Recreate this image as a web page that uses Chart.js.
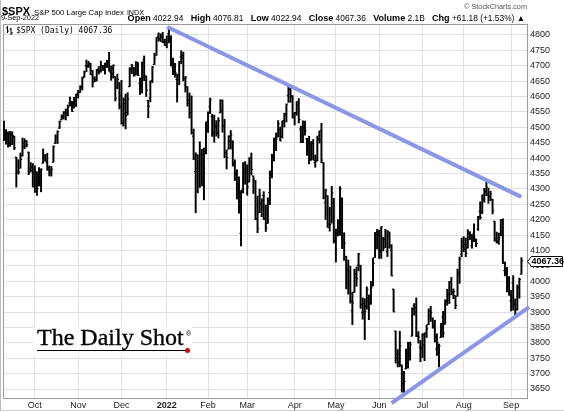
<!DOCTYPE html>
<html>
<head>
<meta charset="utf-8">
<script src="https://cdn.jsdelivr.net/npm/chart.js@4.4.1/dist/chart.umd.min.js"></script>
<style>
  body { margin: 0; background: #fff; }
  #wrap { position: relative; width: 564px; height: 412px; overflow: hidden; background: #fff; font-family: Arial, "Liberation Sans", sans-serif; color: #000; }
  #c { position: absolute; left: 0; top: 0; }
  .abs { position: absolute; white-space: nowrap; line-height: 1; }
  #sym { left: 2px; top: 1.5px; }
  #sym b { font-size: 11px; }
  #sym .nm { font-size: 8px; margin-left: 4px; }
  #sym .ex { font-size: 7.5px; margin-left: 3px; }
  #brand { right: 37px; top: 3px; font-size: 8px; color: #555; }
  #date { left: 1px; top: 14.2px; font-size: 8px; }
  #quote { right: 39px; top: 13.8px; font-size: 8.4px; }
  #quote b { font-size: 1.08em; margin-left: 0.55em; }
  #quote b:first-child { margin-left: 0; }
  #legend { left: 6px; top: 26px; font-family: "DejaVu Sans Mono", monospace; font-size: 8px; display: flex; align-items: center; }
  #legend svg { margin-right: 3px; }
  #logo { left: 34px; top: 327px; width: 158px; height: 28px; background: #fff; }
  #logo .t { position: absolute; left: 3px; top: -2px; font-family: "Liberation Serif", "Times New Roman", serif; font-size: 24px; letter-spacing: 0; -webkit-text-stroke: 0.35px #000; }
  #logo .ul { position: absolute; left: 3px; top: 22.5px; width: 150px; height: 1.5px; background: #000; }
  #logo .dot { position: absolute; left: 150.5px; top: 20.5px; width: 5px; height: 5px; border-radius: 50%; background: #d00; }
  #logo .r { position: absolute; left: 152px; top: 3px; font-size: 7px; font-family: Arial, sans-serif; }
  #edge { position: absolute; left: 0; top: 0; width: 563px; height: 410px; border-left: 1px solid #bbb; border-bottom: 1px solid #ccc; pointer-events: none; }
</style>
</head>
<body>
<div id="wrap">
  <canvas id="c" width="564" height="412"></canvas>
  <div id="sym" class="abs"><b data-w="28">$SPX</b><span class="nm" data-w="90">S&amp;P 500 Large Cap Index</span><span class="ex" data-w="17">INDX</span></div>
  <div id="brand" class="abs" data-w="63">© StockCharts.com</div>
  <div id="date" class="abs" data-w="38">9-Sep-2022</div>
  <div id="quote" class="abs" data-w="397"><b>Open</b> 4022.94 <b>High</b> 4076.81 <b>Low</b> 4022.94 <b>Close</b> 4067.36 <b>Volume</b> 2.1B <b>Chg</b> +61.18 (+1.53%) ▲</div>
  <div id="legend" class="abs">
    <svg width="7" height="9" viewBox="0 0 7 9"><path d="M1.5 0V7M0 2H1.5M1.5 5H3M5 2V9M3.5 3H5M5 7H7" stroke="#000" stroke-width="1" fill="none"/></svg>
    <span>$SPX (Daily) 4067.36</span>
  </div>
  <div id="logo" class="abs"><span class="t">The Daily Shot</span><span class="r">®</span><div class="ul"></div><div class="dot"></div></div>
  <div id="edge"></div>
</div>
<script>
// trading days shown, 10-Sep-2021 .. 9-Sep-2022
const dates = [
  '2021-09-10','2021-09-13','2021-09-14','2021-09-15','2021-09-16','2021-09-17','2021-09-20','2021-09-21','2021-09-22','2021-09-23','2021-09-24','2021-09-27','2021-09-28','2021-09-29','2021-09-30',
  '2021-10-01','2021-10-04','2021-10-05','2021-10-06','2021-10-07','2021-10-08','2021-10-11','2021-10-12','2021-10-13','2021-10-14','2021-10-15','2021-10-18','2021-10-19','2021-10-20','2021-10-21','2021-10-22','2021-10-25','2021-10-26','2021-10-27','2021-10-28','2021-10-29',
  '2021-11-01','2021-11-02','2021-11-03','2021-11-04','2021-11-05','2021-11-08','2021-11-09','2021-11-10','2021-11-11','2021-11-12','2021-11-15','2021-11-16','2021-11-17','2021-11-18','2021-11-19','2021-11-22','2021-11-23','2021-11-24','2021-11-26','2021-11-29','2021-11-30',
  '2021-12-01','2021-12-02','2021-12-03','2021-12-06','2021-12-07','2021-12-08','2021-12-09','2021-12-10','2021-12-13','2021-12-14','2021-12-15','2021-12-16','2021-12-17','2021-12-20','2021-12-21','2021-12-22','2021-12-23','2021-12-27','2021-12-28','2021-12-29','2021-12-30','2021-12-31',
  '2022-01-03','2022-01-04','2022-01-05','2022-01-06','2022-01-07','2022-01-10','2022-01-11','2022-01-12','2022-01-13','2022-01-14','2022-01-18','2022-01-19','2022-01-20','2022-01-21','2022-01-24','2022-01-25','2022-01-26','2022-01-27','2022-01-28','2022-01-31',
  '2022-02-01','2022-02-02','2022-02-03','2022-02-04','2022-02-07','2022-02-08','2022-02-09','2022-02-10','2022-02-11','2022-02-14','2022-02-15','2022-02-16','2022-02-17','2022-02-18','2022-02-22','2022-02-23','2022-02-24','2022-02-25','2022-02-28',
  '2022-03-01','2022-03-02','2022-03-03','2022-03-04','2022-03-07','2022-03-08','2022-03-09','2022-03-10','2022-03-11','2022-03-14','2022-03-15','2022-03-16','2022-03-17','2022-03-18','2022-03-21','2022-03-22','2022-03-23','2022-03-24','2022-03-25','2022-03-28','2022-03-29','2022-03-30','2022-03-31',
  '2022-04-01','2022-04-04','2022-04-05','2022-04-06','2022-04-07','2022-04-08','2022-04-11','2022-04-12','2022-04-13','2022-04-14','2022-04-18','2022-04-19','2022-04-20','2022-04-21','2022-04-22','2022-04-25','2022-04-26','2022-04-27','2022-04-28','2022-04-29',
  '2022-05-02','2022-05-03','2022-05-04','2022-05-05','2022-05-06','2022-05-09','2022-05-10','2022-05-11','2022-05-12','2022-05-13','2022-05-16','2022-05-17','2022-05-18','2022-05-19','2022-05-20','2022-05-23','2022-05-24','2022-05-25','2022-05-26','2022-05-27','2022-05-31',
  '2022-06-01','2022-06-02','2022-06-03','2022-06-06','2022-06-07','2022-06-08','2022-06-09','2022-06-10','2022-06-13','2022-06-14','2022-06-15','2022-06-16','2022-06-17','2022-06-21','2022-06-22','2022-06-23','2022-06-24','2022-06-27','2022-06-28','2022-06-29','2022-06-30',
  '2022-07-01','2022-07-05','2022-07-06','2022-07-07','2022-07-08','2022-07-11','2022-07-12','2022-07-13','2022-07-14','2022-07-15','2022-07-18','2022-07-19','2022-07-20','2022-07-21','2022-07-22','2022-07-25','2022-07-26','2022-07-27','2022-07-28','2022-07-29',
  '2022-08-01','2022-08-02','2022-08-03','2022-08-04','2022-08-05','2022-08-08','2022-08-09','2022-08-10','2022-08-11','2022-08-12','2022-08-15','2022-08-16','2022-08-17','2022-08-18','2022-08-19','2022-08-22','2022-08-23','2022-08-24','2022-08-25','2022-08-26','2022-08-29','2022-08-30','2022-08-31',
  '2022-09-01','2022-09-02','2022-09-06','2022-09-07','2022-09-08','2022-09-09'
];

const opens = [
  4506.9,4474.8,4479.3,4447.5,4477.1,4469.7,4403.0,4374.5,4367.4,4406.8,4438.0,4442.1,4419.5,4362.4,4370.7,
  4317.2,4348.8,4309.9,4319.6,4383.7,4406.5,4385.4,4368.3,4358.0,4386.8,4447.7,4463.7,4497.3,4524.4,4532.2,4546.1,4553.7,4578.7,4580.2,4562.8,4572.9,
  4610.6,4613.3,4630.7,4662.9,4699.3,4701.5,4707.3,4670.3,4659.4,4655.2,4689.3,4679.4,4701.5,4700.7,4708.4,4712.0,4678.5,4675.8,4664.6,4628.8,4640.3,
  4602.8,4504.7,4589.5,4548.4,4632.0,4690.9,4691.0,4687.6,4710.3,4643.0,4636.5,4719.1,4652.5,4587.9,4595.0,4650.4,4704.0,4734.0,4795.5,4788.6,4794.2,4775.2,
  4778.1,4804.5,4788.0,4693.4,4697.7,4655.3,4669.1,4728.6,4733.6,4638.0,4632.2,4588.0,4547.4,4471.4,4356.3,4366.6,4380.6,4380.6,4336.2,4431.8,
  4519.6,4566.4,4535.4,4482.8,4505.8,4480.0,4547.0,4553.2,4506.3,4412.6,4429.3,4455.8,4456.1,4384.6,4332.7,4324.0,4155.8,4298.4,4354.2,
  4363.1,4322.6,4401.3,4342.1,4327.0,4202.7,4223.1,4252.6,4279.5,4202.8,4188.8,4288.1,4345.1,4407.3,4462.4,4469.1,4493.1,4470.0,4522.7,4541.1,4602.9,4624.2,4599.0,
  4540.3,4548.0,4572.5,4494.2,4474.7,4494.2,4462.6,4437.6,4394.3,4449.1,4385.6,4390.6,4472.3,4489.2,4385.8,4255.3,4278.1,4186.5,4222.6,4253.8,
  4130.6,4159.8,4181.2,4270.4,4128.2,4081.3,4035.2,3990.1,3904.0,3963.9,4013.0,4052.0,4052.0,3899.0,3927.8,3919.4,3942.9,3929.6,3984.6,4077.4,4151.1,
  4149.8,4095.4,4137.6,4134.7,4096.5,4147.1,4101.7,3974.4,3838.2,3763.5,3764.1,3728.2,3665.9,3715.3,3733.9,3774.7,3821.8,3920.8,3913.0,3825.1,3786.0,
  3781.0,3792.6,3832.0,3858.9,3888.3,3880.9,3852.0,3779.7,3764.0,3818.0,3883.8,3860.7,3935.3,3955.5,3998.4,3965.7,3953.2,3951.4,4026.1,4087.3,
  4112.4,4104.2,4108.0,4154.9,4115.9,4155.9,4133.1,4170.1,4227.4,4225.0,4269.4,4290.5,4280.4,4273.1,4266.3,4195.1,4133.1,4126.6,4153.3,4198.7,4034.6,4041.3,4000.7,
  3936.7,3994.7,3930.9,3909.4,3959.9,4022.94
];

const highs = [
  4520.5,4493.0,4485.7,4486.9,4485.9,4471.5,4403.0,4394.9,4416.8,4465.4,4463.1,4457.3,4419.5,4385.6,4382.6,
  4375.2,4355.5,4369.2,4365.6,4430.0,4412.0,4415.9,4374.9,4372.9,4439.7,4475.8,4488.8,4520.4,4540.9,4551.4,4559.7,4572.6,4598.5,4584.6,4597.6,4608.1,
  4620.3,4635.2,4663.5,4683.0,4718.5,4714.9,4708.5,4684.9,4664.6,4688.5,4697.4,4715.0,4701.5,4708.8,4717.8,4743.8,4699.4,4702.9,4664.6,4673.0,4646.0,
  4652.9,4595.5,4608.0,4612.6,4694.0,4705.1,4695.3,4713.6,4710.3,4660.5,4712.6,4732.0,4666.7,4587.9,4651.1,4697.7,4740.7,4791.5,4807.0,4804.1,4808.9,4786.8,
  4796.6,4818.6,4797.7,4725.0,4708.0,4673.0,4714.1,4748.8,4744.1,4665.1,4632.2,4611.6,4602.1,4494.5,4417.4,4411.0,4453.2,4428.7,4432.7,4516.9,
  4550.5,4595.3,4542.9,4539.7,4521.9,4531.3,4590.0,4588.9,4526.3,4426.2,4472.8,4489.6,4456.1,4394.6,4362.1,4339.1,4294.7,4385.3,4388.8,
  4378.5,4401.5,4416.8,4342.1,4327.0,4276.9,4299.4,4268.3,4291.0,4247.6,4271.1,4357.9,4412.7,4465.4,4481.8,4522.0,4501.1,4520.6,4546.0,4575.7,4637.3,4627.8,4603.1,
  4548.7,4583.5,4593.5,4503.9,4521.2,4520.4,4464.4,4471.0,4453.9,4460.5,4410.3,4471.0,4488.3,4512.9,4385.8,4299.0,4278.1,4240.7,4308.5,4269.7,
  4169.8,4200.1,4307.7,4270.4,4157.7,4081.3,4068.8,4049.1,3964.8,4038.9,4046.5,4090.7,4052.0,3946.0,3943.4,3981.9,3955.7,3999.3,4075.1,4158.5,4168.3,
  4166.5,4177.5,4142.7,4168.8,4164.9,4160.1,4119.1,3974.4,3838.2,3778.2,3837.6,3728.2,3707.7,3779.7,3801.8,3802.6,3913.7,3927.7,3945.9,3836.5,3807.9,
  3829.8,3832.2,3858.0,3910.6,3918.5,3880.9,3873.4,3829.4,3796.4,3863.6,3902.4,3939.8,3974.1,3999.3,4012.4,3975.3,3953.2,4039.6,4079.0,4140.2,
  4145.0,4140.5,4167.7,4161.3,4151.6,4186.6,4137.3,4211.0,4257.9,4280.5,4301.8,4325.3,4302.2,4292.5,4266.3,4195.1,4159.8,4156.6,4200.5,4203.0,4063.0,4045.0,4015.4,
  3970.2,4018.4,3942.6,3987.9,4010.5,4076.81
];

const lows = [
  4457.7,4445.7,4435.5,4438.4,4443.8,4427.8,4305.9,4348.0,4367.4,4406.8,4430.3,4436.2,4346.3,4355.1,4306.2,
  4288.5,4278.9,4309.9,4290.5,4383.7,4389.9,4360.6,4342.1,4341.4,4386.8,4447.7,4447.5,4496.4,4524.4,4526.9,4524.0,4537.4,4569.2,4551.7,4562.8,4567.6,
  4595.1,4613.3,4621.2,4662.6,4681.3,4694.4,4670.9,4630.9,4648.3,4650.8,4672.9,4679.4,4684.4,4672.8,4694.2,4682.2,4652.7,4659.9,4585.4,4625.3,4560.0,
  4510.3,4504.7,4495.1,4540.5,4632.0,4674.5,4666.0,4670.2,4667.6,4606.5,4611.2,4651.9,4600.2,4531.1,4583.2,4645.5,4704.0,4734.0,4780.0,4778.1,4775.3,4765.8,
  4758.2,4774.3,4699.4,4671.3,4662.7,4582.2,4638.3,4706.7,4650.3,4614.8,4568.7,4530.2,4478.0,4395.3,4222.6,4287.1,4304.8,4309.5,4264.4,4414.0,
  4483.5,4544.3,4470.4,4451.5,4471.5,4465.4,4547.0,4484.3,4401.4,4364.8,4429.3,4429.7,4373.8,4327.2,4267.1,4221.5,4114.7,4286.8,4315.1,
  4279.5,4322.6,4345.6,4285.0,4199.9,4157.9,4223.1,4209.8,4200.5,4161.7,4187.9,4248.9,4335.7,4390.6,4424.3,4469.1,4455.8,4465.2,4501.1,4517.7,4581.3,4581.3,4530.4,
  4507.6,4539.2,4514.2,4450.0,4450.3,4474.6,4408.4,4381.3,4392.7,4394.6,4370.3,4390.6,4448.8,4384.5,4267.6,4200.8,4175.0,4162.9,4188.6,4124.3,
  4062.5,4147.1,4148.9,4106.0,4067.9,3975.5,3958.2,3928.8,3858.9,3963.9,3984.0,4033.9,3911.9,3876.6,3810.3,3909.0,3875.1,3925.0,3984.6,4077.4,4104.9,
  4073.9,4074.4,4098.7,4109.2,4080.2,4107.2,4017.2,3900.2,3734.3,3721.6,3722.3,3639.8,3636.9,3715.3,3717.7,3743.5,3821.8,3889.7,3820.1,3799.0,3738.7,
  3752.1,3742.1,3817.2,3858.9,3869.3,3847.2,3802.4,3759.1,3721.6,3817.2,3818.6,3860.7,3922.0,3927.6,3955.8,3943.5,3910.7,3951.4,3993.0,4079.2,
  4096.0,4079.8,4108.0,4135.4,4107.3,4129.0,4112.1,4164.9,4201.4,4219.8,4256.9,4277.8,4253.1,4262.0,4218.7,4129.9,4124.0,4120.0,4147.6,4057.7,4017.4,3965.2,3954.5,
  3903.7,3906.2,3886.8,3906.0,3944.8,4022.94
];

const closes = [
  4458.6,4468.7,4443.1,4480.7,4473.8,4433.0,4357.7,4354.2,4395.6,4449.0,4455.5,4443.1,4352.6,4359.5,4307.5,
  4357.0,4300.5,4345.7,4363.6,4399.8,4391.3,4361.2,4350.7,4363.8,4438.3,4471.4,4486.5,4519.6,4536.2,4549.8,4544.9,4566.5,4574.8,4551.7,4596.4,4605.4,
  4613.7,4630.7,4660.6,4680.1,4697.5,4701.7,4685.3,4646.7,4649.3,4682.9,4682.8,4700.9,4688.7,4704.5,4698.0,4682.9,4690.7,4701.5,4594.6,4655.3,4567.0,
  4513.0,4577.1,4538.4,4591.7,4686.8,4701.2,4667.5,4712.0,4669.0,4634.1,4709.9,4668.7,4620.6,4568.0,4649.2,4696.6,4725.8,4791.2,4786.4,4793.1,4778.7,4766.2,
  4796.6,4793.5,4700.6,4696.1,4677.0,4670.3,4713.1,4726.4,4659.0,4662.9,4577.1,4532.8,4482.7,4397.9,4410.1,4356.5,4349.9,4326.5,4431.9,4515.6,
  4546.5,4589.4,4477.4,4500.5,4483.9,4521.5,4587.2,4504.1,4418.6,4401.7,4471.1,4475.0,4380.3,4348.9,4304.8,4225.5,4288.7,4384.7,4373.9,
  4306.3,4386.5,4363.5,4328.9,4201.1,4170.7,4277.9,4259.5,4204.3,4173.1,4262.5,4357.9,4411.7,4463.1,4461.2,4511.6,4456.2,4520.2,4543.1,4575.5,4631.6,4602.5,4530.4,
  4545.9,4582.6,4525.1,4481.2,4500.2,4488.3,4412.5,4397.5,4446.6,4392.6,4391.7,4462.2,4459.5,4393.7,4271.8,4296.1,4175.2,4184.0,4287.5,4131.9,
  4155.4,4175.5,4300.2,4146.9,4123.3,3991.2,4001.1,3935.2,3930.1,4023.9,4008.0,4088.9,3923.7,3900.8,3901.4,3973.8,3941.5,3978.7,4057.8,4158.2,4132.2,
  4101.2,4176.8,4108.5,4121.4,4160.7,4115.8,4017.8,3900.9,3749.6,3735.5,3790.0,3666.8,3674.8,3764.8,3759.9,3795.7,3911.7,3900.1,3821.6,3818.8,3785.4,
  3825.3,3831.4,3845.1,3902.6,3899.4,3854.4,3818.8,3801.8,3790.4,3863.2,3830.9,3936.7,3959.9,3999.0,3961.6,3966.8,3921.1,4023.6,4072.4,4130.3,
  4118.6,4091.2,4155.2,4151.9,4145.2,4140.1,4122.5,4210.2,4207.3,4280.2,4297.1,4305.2,4274.0,4283.7,4228.5,4138.0,4128.7,4140.8,4199.1,4057.7,4030.6,3986.2,3955.0,
  3966.9,3924.3,3908.2,3979.9,4006.2,4067.36
];

// hand-drawn trend lines, [bar index, price]
const resistance = [[79.3, 4826], [250.9, 4274]];
const support = [[188.0, 3604], [254.7, 3916]];

const yTicks = [3650,3700,3750,3800,3850,3900,3950,4000,4050,4100,4150,4200,4250,4300,4350,4400,4450,4500,4550,4600,4650,4700,4750,4800];
const monthNames = ['Jan','Feb','Mar','Apr','May','Jun','Jul','Aug','Sep','Oct','Nov','Dec'];

// month ticks: first trading day of each month
const monthStarts = [];
const monthLabels = [];
dates.forEach((d, i) => {
  if (i > 0 && d.slice(5, 7) !== dates[i - 1].slice(5, 7)) {
    const m = +d.slice(5, 7);
    monthStarts.push(i);
    monthLabels.push(m === 1 ? d.slice(0, 4) : monthNames[m - 1]);
  }
});

// size header texts so they take the width they take in the source
document.querySelectorAll('[data-w]').forEach(el => {
  const w = el.getBoundingClientRect().width;
  const fs = parseFloat(getComputedStyle(el).fontSize);
  el.style.fontSize = (fs * (+el.dataset.w) / w).toFixed(2) + 'px';
});

const TREND = '#8a96ec';
const TICK = 0.45;

const plotFrame = {
  id: 'plotFrame',
  beforeDatasetsDraw(chart) {
    const { ctx, chartArea: a } = chart;
    ctx.save();
    ctx.strokeStyle = '#9a9a9a';
    ctx.lineWidth = 1;
    ctx.strokeRect(a.left + 0.5, a.top + 0.5, a.right - a.left, a.bottom - a.top);
    ctx.restore();
  }
};

const lastTag = {
  id: 'lastTag',
  afterDraw(chart) {
    const { ctx, chartArea: a } = chart;
    const last = closes[closes.length - 1];
    const y = Math.round(chart.scales.y.getPixelForValue(last)) + 0.5;
    const x = a.right + 0.5;
    ctx.save();
    ctx.beginPath();
    ctx.moveTo(x, y);
    ctx.lineTo(x + 4, y - 5);
    ctx.lineTo(562.5, y - 5);
    ctx.lineTo(562.5, y + 5);
    ctx.lineTo(x + 4, y + 5);
    ctx.closePath();
    ctx.fillStyle = '#fff';
    ctx.fill();
    ctx.strokeStyle = '#000';
    ctx.lineWidth = 1;
    ctx.stroke();
    ctx.fillStyle = '#000';
    ctx.font = 'bold 9px Arial';
    ctx.textBaseline = 'middle';
    ctx.fillText(last.toFixed(2), x + 4, y + 0.5);
    ctx.restore();
  }
};

new Chart(document.getElementById('c'), {
  type: 'bar',
  data: {
    datasets: [
      {
        type: 'line', data: resistance.map(p => ({ x: p[0], y: p[1] })),
        borderColor: TREND, borderWidth: 4, pointRadius: 0, clip: false, order: 0
      },
      {
        type: 'line', data: support.map(p => ({ x: p[0], y: p[1] })),
        borderColor: TREND, borderWidth: 4, pointRadius: 0, clip: false, order: 0
      },
      {
        type: 'bar', data: dates.map((d, i) => ({ x: i, y: [lows[i], highs[i]] })),
        backgroundColor: '#000', barThickness: 1.3, order: 3
      },
      {
        type: 'line', data: dates.map((d, i) => ({ x: i - TICK, y: opens[i] })),
        showLine: false, pointStyle: 'line', pointRadius: 0.75, pointBorderWidth: 1,
        pointBorderColor: '#000', pointHoverRadius: 0, order: 2
      },
      {
        type: 'line', data: dates.map((d, i) => ({ x: i + TICK, y: closes[i] })),
        showLine: false, pointStyle: 'line', pointRadius: 0.75, pointBorderWidth: 1,
        pointBorderColor: '#000', pointHoverRadius: 0, order: 2
      }
    ]
  },
  options: {
    responsive: false,
    animation: false,
    devicePixelRatio: 1,
    layout: { padding: { left: 3, top: 24, right: 0, bottom: 0 } },
    plugins: { legend: { display: false }, tooltip: { enabled: false } },
    scales: {
      x: {
        type: 'linear', min: -0.46, max: 253.7, offset: false,
        grid: { color: '#e0e0e0', drawTicks: false, offset: false },
        border: { display: false },
        afterBuildTicks: s => { s.ticks = monthStarts.map(v => ({ value: v })); },
        afterFit: s => { s.height = 14; },
        ticks: {
          autoSkip: false, maxRotation: 0, padding: 2, color: '#222',
          font: c => ({ family: 'Arial', size: 9, weight: /^\d/.test(c.tick && c.tick.label) ? 'bold' : 'normal' }),
          callback: v => monthLabels[monthStarts.indexOf(v)]
        }
      },
      y: {
        position: 'right', min: 3620.8, max: 4835.7,
        grid: { color: '#e0e0e0', drawTicks: false },
        border: { display: false },
        afterBuildTicks: s => { s.ticks = yTicks.map(v => ({ value: v })); },
        afterFit: s => { s.width = 37; },
        ticks: { padding: 3, color: '#222', font: { family: 'Arial', size: 9 }, callback: v => String(v) }
      }
    }
  },
  plugins: [plotFrame, lastTag]
});
</script>
</body>
</html>
